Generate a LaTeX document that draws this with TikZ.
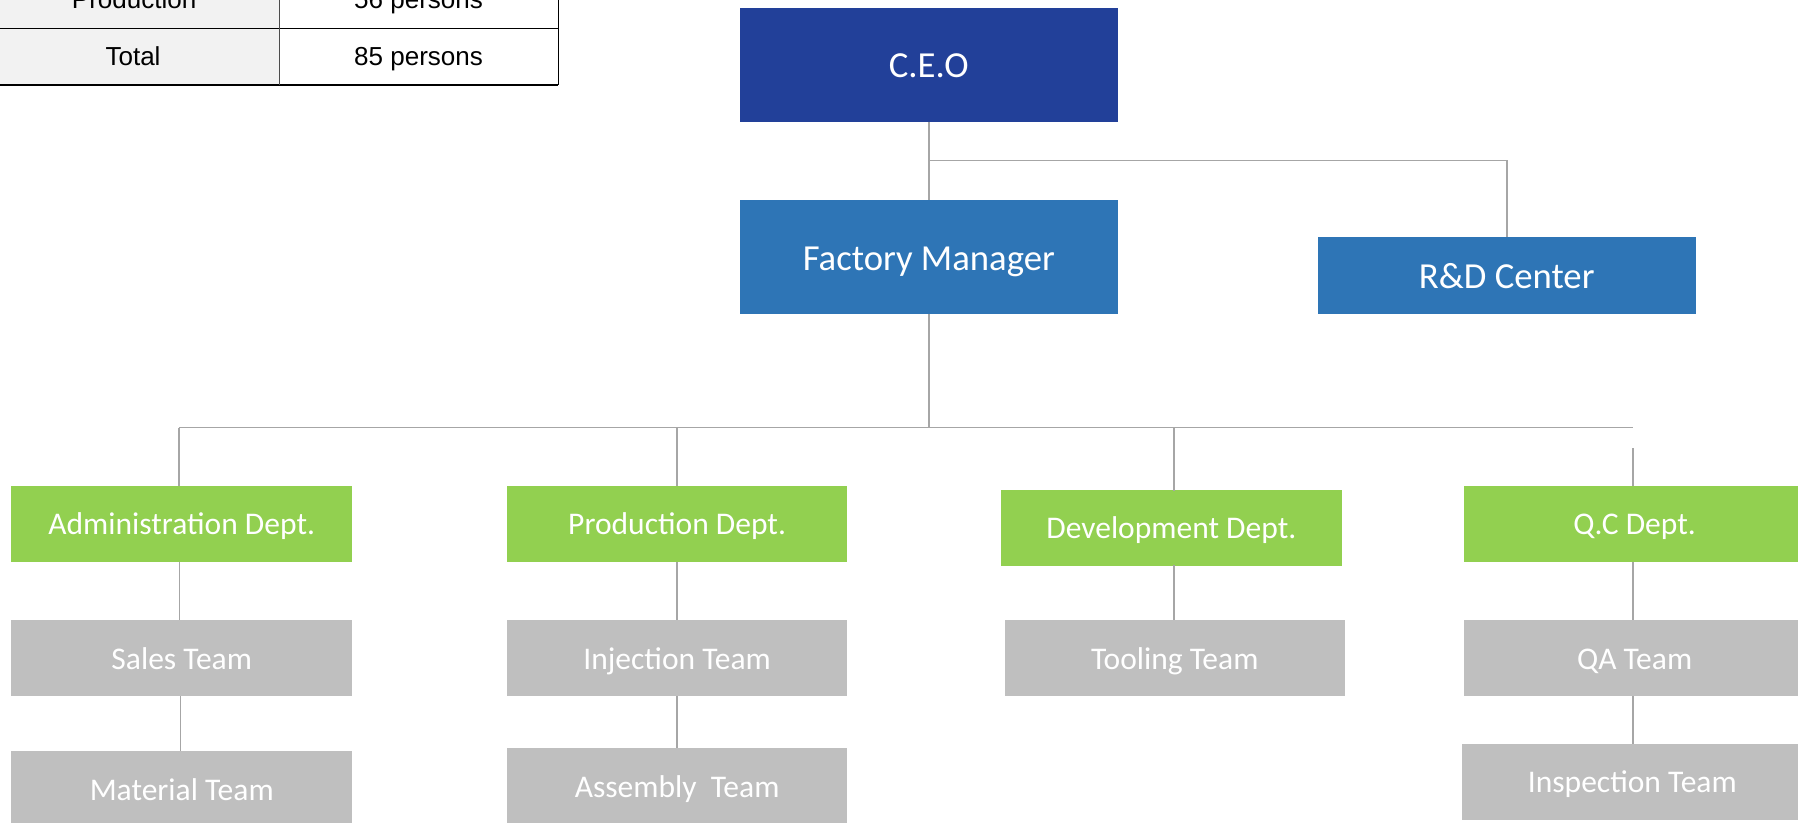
\documentclass[tikz,border=0pt]{standalone}
\usepackage{fontspec}
\setmainfont{Carlito}
\newfontfamily\tablefont{Liberation Sans}
\definecolor{ceoblue}{HTML}{224099}
\definecolor{midblue}{HTML}{2E75B6}
\definecolor{deptgreen}{HTML}{92D050}
\definecolor{teamgrey}{HTML}{BFBFBF}
\definecolor{linegrey}{HTML}{A6A6A6}
\definecolor{cellgrey}{HTML}{F2F2F2}
\begin{document}
\begin{tikzpicture}[x=1pt,y=-1pt,
  orgbox/.style={rectangle, inner sep=0pt, draw=none, text=white, align=center, text depth=0pt},
  topbox/.style={orgbox, minimum width=330pt, text height=23pt, font=\fontsize{32}{38}\selectfont},
  deptbox/.style={orgbox, fill=deptgreen, minimum width=297pt, minimum height=66pt, text height=18.8pt, font=\fontsize{27.5}{33}\selectfont},
  teambox/.style={orgbox, fill=teamgrey, minimum width=297pt, minimum height=66pt, text height=19.6pt, font=\fontsize{27.5}{33}\selectfont},
  conn/.style={draw=linegrey, line width=1.3pt},
  cell/.style={anchor=base, inner sep=0pt, text=black, font=\tablefont\fontsize{22.7}{27}\selectfont},
  rule/.style={draw=black, line width=1.2pt}]
\useasboundingbox (0,0) rectangle (1568,717);
\clip (0,0) rectangle (1568,717);
% table
\fill[cellgrey] (-5,-30) rectangle (244,74);
\draw[rule] (-5,25) -- (487,25);
\draw[rule] (-5,74) -- (487,74);
\draw[rule, draw=black!70] (244,-30) -- (244,74);
\draw[rule] (487,-30) -- (487,74);
\node[cell] (c1) at (117,7.3) {Production};
\node[cell] (c2) at (365,7.3) {56 persons};
\node[cell] (c3) at (116,57.3) {Total};
\node[cell] (c4) at (365,57.3) {85 persons};
% top boxes
\node[topbox, fill=ceoblue, minimum height=99pt] (ceo) at (810,56.5) {C.E.O};
\node[topbox, fill=midblue, minimum height=99pt] (fm) at (810,224) {Factory Manager};
\node[topbox, fill=midblue, minimum height=67.5pt] (rnd) at (1314,240.5) {R\&D Center};
% departments
\node[deptbox] (adm) at (158.5,457) {Administration Dept.};
\node[deptbox] (prod) at (590.5,457) {Production Dept.};
\node[deptbox] (dev) at (1021.5,460.5) {Development Dept.};
\node[deptbox] (qc) at (1425.5,457) {Q.C Dept.};
% teams
\node[teambox] (sales) at (158.5,574) {Sales Team};
\node[teambox] (mat) at (158.5,688) {Material Team};
\node[teambox] (inj) at (590.5,574) {Injection Team};
\node[teambox] (asm) at (590.5,685.5) {Assembly\ \ Team};
\node[teambox] (tool) at (1024.5,574) {Tooling Team};
\node[teambox] (qa) at (1425.5,574) {QA Team};
\node[teambox] (insp) at (1423.5,681.7) {Inspection Team};
% connectors
\coordinate (b1) at (810,140);
\coordinate (bus) at (810,373);
\coordinate (busL) at (156,373);
\coordinate (busR) at (1424,373);
\coordinate (qctop) at (1424,391);
\draw[conn] (ceo.south) -- (fm.north);
\draw[conn] (b1) -| (rnd.north);
\draw[conn] (fm.south) -- (bus);
\draw[conn] (busL) -- (busR);
\draw[conn] (busL) -- (busL |- adm.north);
\draw[conn] (prod.north |- bus) -- (prod.north);
\draw[conn] (1024,373) -- (1024,428);
\draw[conn] (qctop) -- (qctop |- qc.north);
\draw[conn] (156.5,490) -- (156.5,541);
\draw[conn] (157.5,607) -- (157.5,655);
\draw[conn] (prod.south) -- (inj.north);
\draw[conn] (inj.south) -- (asm.north);
\draw[conn] (1024,493) -- (1024,541);
\draw[conn] (qc.south -| qctop) -- (qa.north -| qctop);
\draw[conn] (qa.south -| qctop) -- (insp.north -| qctop);
\end{tikzpicture}
\end{document}
